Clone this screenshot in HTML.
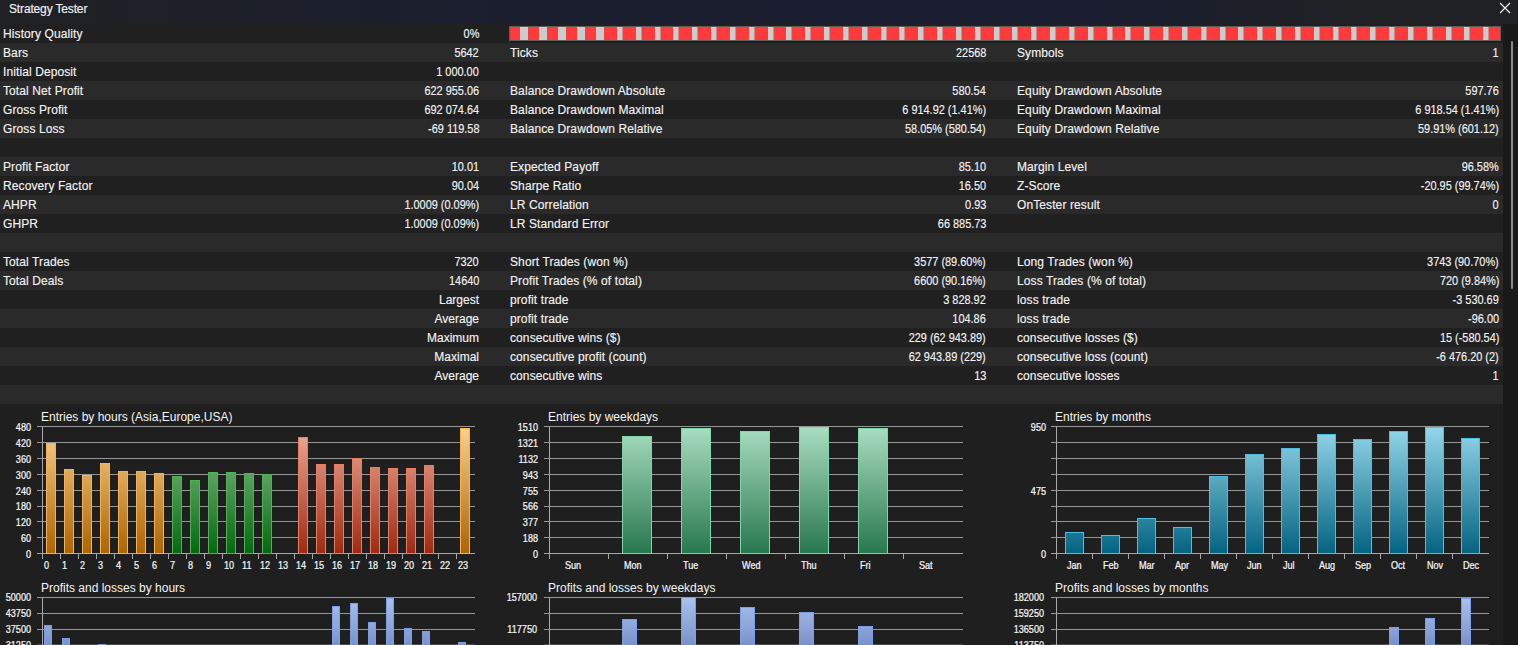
<!DOCTYPE html><html><head><meta charset="utf-8"><style>
*{margin:0;padding:0;box-sizing:border-box}
html,body{width:1518px;height:645px;overflow:hidden;background:#1f1f1f;font-family:"Liberation Sans",sans-serif;color:#f2f2f2;-webkit-text-stroke:0.15px #f2f2f2}
.t{position:absolute;font-size:12px;line-height:19px;white-space:nowrap}
.r{position:absolute;left:0;width:1503px;height:19px}
.l{position:absolute;white-space:nowrap;font-size:12px;line-height:19px;top:1px;letter-spacing:0.1px}
.v{position:absolute;white-space:nowrap;font-size:12px;line-height:19px;top:1px;text-align:right}
.n{transform:scaleX(0.91);transform-origin:100% 50%}
#title{position:absolute;left:0;top:0;width:1518px;height:24px;background:linear-gradient(90deg,#202124 0%,#1f2027 8%,#1d2029 15%,#1b1f2d 25%,#1a1e2f 35%,#1a1e2f 50%,#191d30 70%,#1b1e2c 78%,#1f2026 85%,#202124 90%,#202124 100%)}
#title span{position:absolute;left:9px;top:0.3px;font-size:12px;letter-spacing:-0.15px;line-height:19px;color:#f2f2f2}
#track{position:absolute;left:1503px;top:24px;width:15px;height:621px;background:#191919}
#thumb{position:absolute;left:1511px;top:41px;width:2px;height:248px;background:#8a8a8a;border-radius:1px}
svg{position:absolute;left:0;top:0}

</style></head><body>
<div id="title"><span>Strategy Tester</span></div>
<svg width="1518" height="24" style="top:0"><path d="M1500 3 L1510 13 M1510 3 L1500 13" stroke="#f0f0f0" stroke-width="1.2" fill="none"/></svg>
<div class="r" style="top:24px;background:#202020">
<span class="l" style="left:3px">History Quality</span>
<span class="v n" style="right:1024px">0%</span>
</div>
<div class="r" style="top:43px;background:#2a2a2a">
<span class="l" style="left:3px">Bars</span>
<span class="v n" style="right:1024px">5642</span>
<span class="l" style="left:510px">Ticks</span>
<span class="v n" style="right:517px">22568</span>
<span class="l" style="left:1017px">Symbols</span>
<span class="v n" style="right:4px">1</span>
</div>
<div class="r" style="top:62px;background:#202020">
<span class="l" style="left:3px">Initial Deposit</span>
<span class="v n" style="right:1024px">1 000.00</span>
</div>
<div class="r" style="top:81px;background:#2a2a2a">
<span class="l" style="left:3px">Total Net Profit</span>
<span class="v n" style="right:1024px">622 955.06</span>
<span class="l" style="left:510px">Balance Drawdown Absolute</span>
<span class="v n" style="right:517px">580.54</span>
<span class="l" style="left:1017px">Equity Drawdown Absolute</span>
<span class="v n" style="right:4px">597.76</span>
</div>
<div class="r" style="top:100px;background:#202020">
<span class="l" style="left:3px">Gross Profit</span>
<span class="v n" style="right:1024px">692 074.64</span>
<span class="l" style="left:510px">Balance Drawdown Maximal</span>
<span class="v n" style="right:517px">6 914.92 (1.41%)</span>
<span class="l" style="left:1017px">Equity Drawdown Maximal</span>
<span class="v n" style="right:4px">6 918.54 (1.41%)</span>
</div>
<div class="r" style="top:119px;background:#2a2a2a">
<span class="l" style="left:3px">Gross Loss</span>
<span class="v n" style="right:1024px">-69 119.58</span>
<span class="l" style="left:510px">Balance Drawdown Relative</span>
<span class="v n" style="right:517px">58.05% (580.54)</span>
<span class="l" style="left:1017px">Equity Drawdown Relative</span>
<span class="v n" style="right:4px">59.91% (601.12)</span>
</div>
<div class="r" style="top:138px;background:#202020">
</div>
<div class="r" style="top:157px;background:#2a2a2a">
<span class="l" style="left:3px">Profit Factor</span>
<span class="v n" style="right:1024px">10.01</span>
<span class="l" style="left:510px">Expected Payoff</span>
<span class="v n" style="right:517px">85.10</span>
<span class="l" style="left:1017px">Margin Level</span>
<span class="v n" style="right:4px">96.58%</span>
</div>
<div class="r" style="top:176px;background:#202020">
<span class="l" style="left:3px">Recovery Factor</span>
<span class="v n" style="right:1024px">90.04</span>
<span class="l" style="left:510px">Sharpe Ratio</span>
<span class="v n" style="right:517px">16.50</span>
<span class="l" style="left:1017px">Z-Score</span>
<span class="v n" style="right:4px">-20.95 (99.74%)</span>
</div>
<div class="r" style="top:195px;background:#2a2a2a">
<span class="l" style="left:3px">AHPR</span>
<span class="v n" style="right:1024px">1.0009 (0.09%)</span>
<span class="l" style="left:510px">LR Correlation</span>
<span class="v n" style="right:517px">0.93</span>
<span class="l" style="left:1017px">OnTester result</span>
<span class="v n" style="right:4px">0</span>
</div>
<div class="r" style="top:214px;background:#202020">
<span class="l" style="left:3px">GHPR</span>
<span class="v n" style="right:1024px">1.0009 (0.09%)</span>
<span class="l" style="left:510px">LR Standard Error</span>
<span class="v n" style="right:517px">66 885.73</span>
</div>
<div class="r" style="top:233px;background:#2a2a2a">
</div>
<div class="r" style="top:252px;background:#202020">
<span class="l" style="left:3px">Total Trades</span>
<span class="v n" style="right:1024px">7320</span>
<span class="l" style="left:510px">Short Trades (won %)</span>
<span class="v n" style="right:517px">3577 (89.60%)</span>
<span class="l" style="left:1017px">Long Trades (won %)</span>
<span class="v n" style="right:4px">3743 (90.70%)</span>
</div>
<div class="r" style="top:271px;background:#2a2a2a">
<span class="l" style="left:3px">Total Deals</span>
<span class="v n" style="right:1024px">14640</span>
<span class="l" style="left:510px">Profit Trades (% of total)</span>
<span class="v n" style="right:517px">6600 (90.16%)</span>
<span class="l" style="left:1017px">Loss Trades (% of total)</span>
<span class="v n" style="right:4px">720 (9.84%)</span>
</div>
<div class="r" style="top:290px;background:#202020">
<span class="v" style="right:1024px">Largest</span>
<span class="l" style="left:510px">profit trade</span>
<span class="v n" style="right:517px">3 828.92</span>
<span class="l" style="left:1017px">loss trade</span>
<span class="v n" style="right:4px">-3 530.69</span>
</div>
<div class="r" style="top:309px;background:#2a2a2a">
<span class="v" style="right:1024px">Average</span>
<span class="l" style="left:510px">profit trade</span>
<span class="v n" style="right:517px">104.86</span>
<span class="l" style="left:1017px">loss trade</span>
<span class="v n" style="right:4px">-96.00</span>
</div>
<div class="r" style="top:328px;background:#202020">
<span class="v" style="right:1024px">Maximum</span>
<span class="l" style="left:510px">consecutive wins ($)</span>
<span class="v n" style="right:517px">229 (62 943.89)</span>
<span class="l" style="left:1017px">consecutive losses ($)</span>
<span class="v n" style="right:4px">15 (-580.54)</span>
</div>
<div class="r" style="top:347px;background:#2a2a2a">
<span class="v" style="right:1024px">Maximal</span>
<span class="l" style="left:510px">consecutive profit (count)</span>
<span class="v n" style="right:517px">62 943.89 (229)</span>
<span class="l" style="left:1017px">consecutive loss (count)</span>
<span class="v n" style="right:4px">-6 476.20 (2)</span>
</div>
<div class="r" style="top:366px;background:#202020">
<span class="v" style="right:1024px">Average</span>
<span class="l" style="left:510px">consecutive wins</span>
<span class="v n" style="right:517px">13</span>
<span class="l" style="left:1017px">consecutive losses</span>
<span class="v n" style="right:4px">1</span>
</div>
<div class="r" style="top:385px;background:#2a2a2a">
</div>
<div id="track"></div><div id="thumb"></div>
<svg width="1518" height="645" style="top:0;left:0"><rect x="509" y="26" width="992" height="15" fill="#5c5c5c"/><rect x="510" y="27" width="990" height="13" fill="#ff3a3a"/><rect x="520" y="27" width="8" height="13" fill="#cccccc"/><rect x="539" y="27" width="8" height="13" fill="#cccccc"/><rect x="558" y="27" width="8" height="13" fill="#cccccc"/><rect x="577" y="27" width="8" height="13" fill="#cccccc"/><rect x="596" y="27" width="8" height="13" fill="#cccccc"/><rect x="617" y="27" width="5.5" height="13" fill="#cccccc"/><rect x="636" y="27" width="5.5" height="13" fill="#cccccc"/><rect x="655" y="27" width="5.5" height="13" fill="#cccccc"/><rect x="673" y="27" width="5.5" height="13" fill="#cccccc"/><rect x="692" y="27" width="5.5" height="13" fill="#cccccc"/><rect x="711" y="27" width="5.5" height="13" fill="#cccccc"/><rect x="730" y="27" width="5.5" height="13" fill="#cccccc"/><rect x="749" y="27" width="5.5" height="13" fill="#cccccc"/><rect x="768" y="27" width="5.5" height="13" fill="#cccccc"/><rect x="786" y="27" width="5.5" height="13" fill="#cccccc"/><rect x="805" y="27" width="5.5" height="13" fill="#cccccc"/><rect x="824" y="27" width="5.5" height="13" fill="#cccccc"/><rect x="843" y="27" width="5.5" height="13" fill="#cccccc"/><rect x="862" y="27" width="5.5" height="13" fill="#cccccc"/><rect x="881" y="27" width="5.5" height="13" fill="#cccccc"/><rect x="899" y="27" width="5.5" height="13" fill="#cccccc"/><rect x="918" y="27" width="5.5" height="13" fill="#cccccc"/><rect x="937" y="27" width="5.5" height="13" fill="#cccccc"/><rect x="956" y="27" width="5.5" height="13" fill="#cccccc"/><rect x="975" y="27" width="5.5" height="13" fill="#cccccc"/><rect x="994" y="27" width="5.5" height="13" fill="#cccccc"/><rect x="1012" y="27" width="5.5" height="13" fill="#cccccc"/><rect x="1031" y="27" width="5.5" height="13" fill="#cccccc"/><rect x="1050" y="27" width="5.5" height="13" fill="#cccccc"/><rect x="1069" y="27" width="5.5" height="13" fill="#cccccc"/><rect x="1088" y="27" width="5.5" height="13" fill="#cccccc"/><rect x="1107" y="27" width="5.5" height="13" fill="#cccccc"/><rect x="1125" y="27" width="5.5" height="13" fill="#cccccc"/><rect x="1144" y="27" width="5.5" height="13" fill="#cccccc"/><rect x="1163" y="27" width="5.5" height="13" fill="#cccccc"/><rect x="1182" y="27" width="5.5" height="13" fill="#cccccc"/><rect x="1201" y="27" width="5.5" height="13" fill="#cccccc"/><rect x="1220" y="27" width="5.5" height="13" fill="#cccccc"/><rect x="1238" y="27" width="5.5" height="13" fill="#cccccc"/><rect x="1257" y="27" width="5.5" height="13" fill="#cccccc"/><rect x="1276" y="27" width="5.5" height="13" fill="#cccccc"/><rect x="1295" y="27" width="5.5" height="13" fill="#cccccc"/><rect x="1314" y="27" width="5.5" height="13" fill="#cccccc"/><rect x="1333" y="27" width="5.5" height="13" fill="#cccccc"/><rect x="1351" y="27" width="5.5" height="13" fill="#cccccc"/><rect x="1370" y="27" width="5.5" height="13" fill="#cccccc"/><rect x="1389" y="27" width="5.5" height="13" fill="#cccccc"/><rect x="1408" y="27" width="5.5" height="13" fill="#cccccc"/><rect x="1427" y="27" width="5.5" height="13" fill="#cccccc"/><rect x="1446" y="27" width="5.5" height="13" fill="#cccccc"/><rect x="1464" y="27" width="5.5" height="13" fill="#cccccc"/><rect x="1483" y="27" width="5.5" height="13" fill="#cccccc"/></svg>
<svg width="1518" height="645" style="top:0;left:0"><defs>
<linearGradient id="gOr" gradientUnits="userSpaceOnUse" x1="0" y1="426" x2="0" y2="553"><stop offset="0" stop-color="#f9d290"/><stop offset="1" stop-color="#ab6504"/></linearGradient>
<linearGradient id="gGr" gradientUnits="userSpaceOnUse" x1="0" y1="426" x2="0" y2="553"><stop offset="0" stop-color="#8cc690"/><stop offset="1" stop-color="#066810"/></linearGradient>
<linearGradient id="gRd" gradientUnits="userSpaceOnUse" x1="0" y1="426" x2="0" y2="553"><stop offset="0" stop-color="#eeae9e"/><stop offset="1" stop-color="#9e2a12"/></linearGradient>
<linearGradient id="gMint" gradientUnits="userSpaceOnUse" x1="0" y1="426" x2="0" y2="553"><stop offset="0" stop-color="#aadec2"/><stop offset="1" stop-color="#28784e"/></linearGradient>
<linearGradient id="gBl" gradientUnits="userSpaceOnUse" x1="0" y1="426" x2="0" y2="553"><stop offset="0" stop-color="#96d8ec"/><stop offset="1" stop-color="#046482"/></linearGradient>
<linearGradient id="gPl" gradientUnits="userSpaceOnUse" x1="0" y1="597" x2="0" y2="724"><stop offset="0" stop-color="#aac2ee"/><stop offset="1" stop-color="#2a428e"/></linearGradient>
</defs><text x="41" y="421" font-size="12" fill="#f4f4f4">Entries by hours (Asia,Europe,USA)</text><line x1="37" y1="426.50" x2="475" y2="426.50" stroke="#969696" stroke-width="1"/><line x1="37" y1="442.50" x2="475" y2="442.50" stroke="#969696" stroke-width="1"/><line x1="37" y1="458.50" x2="475" y2="458.50" stroke="#969696" stroke-width="1"/><line x1="37" y1="474.50" x2="475" y2="474.50" stroke="#969696" stroke-width="1"/><line x1="37" y1="490.50" x2="475" y2="490.50" stroke="#969696" stroke-width="1"/><line x1="37" y1="506.50" x2="475" y2="506.50" stroke="#969696" stroke-width="1"/><line x1="37" y1="521.50" x2="475" y2="521.50" stroke="#969696" stroke-width="1"/><line x1="37" y1="537.50" x2="475" y2="537.50" stroke="#969696" stroke-width="1"/><g transform="translate(31,430.7) scale(0.91,1)"><text x="0" y="0" font-size="10" text-anchor="end" fill="#f4f4f4" stroke="#f4f4f4" stroke-width="0.25">480</text></g><g transform="translate(31,446.7) scale(0.91,1)"><text x="0" y="0" font-size="10" text-anchor="end" fill="#f4f4f4" stroke="#f4f4f4" stroke-width="0.25">420</text></g><g transform="translate(31,462.7) scale(0.91,1)"><text x="0" y="0" font-size="10" text-anchor="end" fill="#f4f4f4" stroke="#f4f4f4" stroke-width="0.25">360</text></g><g transform="translate(31,478.7) scale(0.91,1)"><text x="0" y="0" font-size="10" text-anchor="end" fill="#f4f4f4" stroke="#f4f4f4" stroke-width="0.25">300</text></g><g transform="translate(31,494.7) scale(0.91,1)"><text x="0" y="0" font-size="10" text-anchor="end" fill="#f4f4f4" stroke="#f4f4f4" stroke-width="0.25">240</text></g><g transform="translate(31,509.7) scale(0.91,1)"><text x="0" y="0" font-size="10" text-anchor="end" fill="#f4f4f4" stroke="#f4f4f4" stroke-width="0.25">180</text></g><g transform="translate(31,525.7) scale(0.91,1)"><text x="0" y="0" font-size="10" text-anchor="end" fill="#f4f4f4" stroke="#f4f4f4" stroke-width="0.25">120</text></g><g transform="translate(31,541.7) scale(0.91,1)"><text x="0" y="0" font-size="10" text-anchor="end" fill="#f4f4f4" stroke="#f4f4f4" stroke-width="0.25">60</text></g><g transform="translate(31,557.7) scale(0.91,1)"><text x="0" y="0" font-size="10" text-anchor="end" fill="#f4f4f4" stroke="#f4f4f4" stroke-width="0.25">0</text></g><line x1="37" y1="553.5" x2="475" y2="553.5" stroke="#a8a8a8" stroke-width="1"/><line x1="42.5" y1="426" x2="42.5" y2="559" stroke="#a8a8a8" stroke-width="1"/><line x1="42.5" y1="553" x2="42.5" y2="559" stroke="#a8a8a8" stroke-width="1"/><line x1="60.5" y1="553" x2="60.5" y2="559" stroke="#a8a8a8" stroke-width="1"/><line x1="78.5" y1="553" x2="78.5" y2="559" stroke="#a8a8a8" stroke-width="1"/><line x1="96.5" y1="553" x2="96.5" y2="559" stroke="#a8a8a8" stroke-width="1"/><line x1="114.5" y1="553" x2="114.5" y2="559" stroke="#a8a8a8" stroke-width="1"/><line x1="132.5" y1="553" x2="132.5" y2="559" stroke="#a8a8a8" stroke-width="1"/><line x1="150.5" y1="553" x2="150.5" y2="559" stroke="#a8a8a8" stroke-width="1"/><line x1="168.5" y1="553" x2="168.5" y2="559" stroke="#a8a8a8" stroke-width="1"/><line x1="186.5" y1="553" x2="186.5" y2="559" stroke="#a8a8a8" stroke-width="1"/><line x1="204.5" y1="553" x2="204.5" y2="559" stroke="#a8a8a8" stroke-width="1"/><line x1="222.5" y1="553" x2="222.5" y2="559" stroke="#a8a8a8" stroke-width="1"/><line x1="240.5" y1="553" x2="240.5" y2="559" stroke="#a8a8a8" stroke-width="1"/><line x1="258.5" y1="553" x2="258.5" y2="559" stroke="#a8a8a8" stroke-width="1"/><line x1="276.5" y1="553" x2="276.5" y2="559" stroke="#a8a8a8" stroke-width="1"/><line x1="294.5" y1="553" x2="294.5" y2="559" stroke="#a8a8a8" stroke-width="1"/><line x1="312.5" y1="553" x2="312.5" y2="559" stroke="#a8a8a8" stroke-width="1"/><line x1="330.5" y1="553" x2="330.5" y2="559" stroke="#a8a8a8" stroke-width="1"/><line x1="348.5" y1="553" x2="348.5" y2="559" stroke="#a8a8a8" stroke-width="1"/><line x1="366.5" y1="553" x2="366.5" y2="559" stroke="#a8a8a8" stroke-width="1"/><line x1="384.5" y1="553" x2="384.5" y2="559" stroke="#a8a8a8" stroke-width="1"/><line x1="402.5" y1="553" x2="402.5" y2="559" stroke="#a8a8a8" stroke-width="1"/><line x1="420.5" y1="553" x2="420.5" y2="559" stroke="#a8a8a8" stroke-width="1"/><line x1="438.5" y1="553" x2="438.5" y2="559" stroke="#a8a8a8" stroke-width="1"/><line x1="456.5" y1="553" x2="456.5" y2="559" stroke="#a8a8a8" stroke-width="1"/><g transform="translate(44,568.5) scale(0.91,1)"><text x="0" y="0" font-size="10" fill="#f4f4f4" stroke="#f4f4f4" stroke-width="0.25">0</text></g><g transform="translate(62,568.5) scale(0.91,1)"><text x="0" y="0" font-size="10" fill="#f4f4f4" stroke="#f4f4f4" stroke-width="0.25">1</text></g><g transform="translate(80,568.5) scale(0.91,1)"><text x="0" y="0" font-size="10" fill="#f4f4f4" stroke="#f4f4f4" stroke-width="0.25">2</text></g><g transform="translate(98,568.5) scale(0.91,1)"><text x="0" y="0" font-size="10" fill="#f4f4f4" stroke="#f4f4f4" stroke-width="0.25">3</text></g><g transform="translate(116,568.5) scale(0.91,1)"><text x="0" y="0" font-size="10" fill="#f4f4f4" stroke="#f4f4f4" stroke-width="0.25">4</text></g><g transform="translate(134,568.5) scale(0.91,1)"><text x="0" y="0" font-size="10" fill="#f4f4f4" stroke="#f4f4f4" stroke-width="0.25">5</text></g><g transform="translate(152,568.5) scale(0.91,1)"><text x="0" y="0" font-size="10" fill="#f4f4f4" stroke="#f4f4f4" stroke-width="0.25">6</text></g><g transform="translate(170,568.5) scale(0.91,1)"><text x="0" y="0" font-size="10" fill="#f4f4f4" stroke="#f4f4f4" stroke-width="0.25">7</text></g><g transform="translate(188,568.5) scale(0.91,1)"><text x="0" y="0" font-size="10" fill="#f4f4f4" stroke="#f4f4f4" stroke-width="0.25">8</text></g><g transform="translate(206,568.5) scale(0.91,1)"><text x="0" y="0" font-size="10" fill="#f4f4f4" stroke="#f4f4f4" stroke-width="0.25">9</text></g><g transform="translate(224,568.5) scale(0.91,1)"><text x="0" y="0" font-size="10" fill="#f4f4f4" stroke="#f4f4f4" stroke-width="0.25">10</text></g><g transform="translate(242,568.5) scale(0.91,1)"><text x="0" y="0" font-size="10" fill="#f4f4f4" stroke="#f4f4f4" stroke-width="0.25">11</text></g><g transform="translate(260,568.5) scale(0.91,1)"><text x="0" y="0" font-size="10" fill="#f4f4f4" stroke="#f4f4f4" stroke-width="0.25">12</text></g><g transform="translate(278,568.5) scale(0.91,1)"><text x="0" y="0" font-size="10" fill="#f4f4f4" stroke="#f4f4f4" stroke-width="0.25">13</text></g><g transform="translate(296,568.5) scale(0.91,1)"><text x="0" y="0" font-size="10" fill="#f4f4f4" stroke="#f4f4f4" stroke-width="0.25">14</text></g><g transform="translate(314,568.5) scale(0.91,1)"><text x="0" y="0" font-size="10" fill="#f4f4f4" stroke="#f4f4f4" stroke-width="0.25">15</text></g><g transform="translate(332,568.5) scale(0.91,1)"><text x="0" y="0" font-size="10" fill="#f4f4f4" stroke="#f4f4f4" stroke-width="0.25">16</text></g><g transform="translate(350,568.5) scale(0.91,1)"><text x="0" y="0" font-size="10" fill="#f4f4f4" stroke="#f4f4f4" stroke-width="0.25">17</text></g><g transform="translate(368,568.5) scale(0.91,1)"><text x="0" y="0" font-size="10" fill="#f4f4f4" stroke="#f4f4f4" stroke-width="0.25">18</text></g><g transform="translate(386,568.5) scale(0.91,1)"><text x="0" y="0" font-size="10" fill="#f4f4f4" stroke="#f4f4f4" stroke-width="0.25">19</text></g><g transform="translate(404,568.5) scale(0.91,1)"><text x="0" y="0" font-size="10" fill="#f4f4f4" stroke="#f4f4f4" stroke-width="0.25">20</text></g><g transform="translate(422,568.5) scale(0.91,1)"><text x="0" y="0" font-size="10" fill="#f4f4f4" stroke="#f4f4f4" stroke-width="0.25">21</text></g><g transform="translate(440,568.5) scale(0.91,1)"><text x="0" y="0" font-size="10" fill="#f4f4f4" stroke="#f4f4f4" stroke-width="0.25">22</text></g><g transform="translate(458,568.5) scale(0.91,1)"><text x="0" y="0" font-size="10" fill="#f4f4f4" stroke="#f4f4f4" stroke-width="0.25">23</text></g><rect x="46.5" y="443.5" width="9" height="110" fill="url(#gOr)" stroke="#ffb04a"/><rect x="64.5" y="469.5" width="9" height="84" fill="url(#gOr)" stroke="#ffb04a"/><rect x="82.5" y="475.5" width="9" height="78" fill="url(#gOr)" stroke="#ffb04a"/><rect x="100.5" y="463.5" width="9" height="90" fill="url(#gOr)" stroke="#ffb04a"/><rect x="118.5" y="471.5" width="9" height="82" fill="url(#gOr)" stroke="#ffb04a"/><rect x="136.5" y="471.5" width="9" height="82" fill="url(#gOr)" stroke="#ffb04a"/><rect x="154.5" y="473.5" width="9" height="80" fill="url(#gOr)" stroke="#ffb04a"/><rect x="460.5" y="428.5" width="9" height="125" fill="url(#gOr)" stroke="#ffb04a"/><rect x="172.5" y="476.5" width="9" height="77" fill="url(#gGr)" stroke="#4cb450"/><rect x="190.5" y="480.5" width="9" height="73" fill="url(#gGr)" stroke="#4cb450"/><rect x="208.5" y="472.5" width="9" height="81" fill="url(#gGr)" stroke="#4cb450"/><rect x="226.5" y="472.5" width="9" height="81" fill="url(#gGr)" stroke="#4cb450"/><rect x="244.5" y="473.5" width="9" height="80" fill="url(#gGr)" stroke="#4cb450"/><rect x="262.5" y="474.5" width="9" height="79" fill="url(#gGr)" stroke="#4cb450"/><rect x="298.5" y="437.5" width="9" height="116" fill="url(#gRd)" stroke="#f07a5a"/><rect x="316.5" y="464.5" width="9" height="89" fill="url(#gRd)" stroke="#f07a5a"/><rect x="334.5" y="464.5" width="9" height="89" fill="url(#gRd)" stroke="#f07a5a"/><rect x="352.5" y="458.5" width="9" height="95" fill="url(#gRd)" stroke="#f07a5a"/><rect x="370.5" y="467.5" width="9" height="86" fill="url(#gRd)" stroke="#f07a5a"/><rect x="388.5" y="468.5" width="9" height="85" fill="url(#gRd)" stroke="#f07a5a"/><rect x="406.5" y="468.5" width="9" height="85" fill="url(#gRd)" stroke="#f07a5a"/><rect x="424.5" y="465.5" width="9" height="88" fill="url(#gRd)" stroke="#f07a5a"/><text x="548" y="421" font-size="12" fill="#f4f4f4">Entries by weekdays</text><line x1="544" y1="426.50" x2="963" y2="426.50" stroke="#969696" stroke-width="1"/><line x1="544" y1="442.50" x2="963" y2="442.50" stroke="#969696" stroke-width="1"/><line x1="544" y1="458.50" x2="963" y2="458.50" stroke="#969696" stroke-width="1"/><line x1="544" y1="474.50" x2="963" y2="474.50" stroke="#969696" stroke-width="1"/><line x1="544" y1="490.50" x2="963" y2="490.50" stroke="#969696" stroke-width="1"/><line x1="544" y1="506.50" x2="963" y2="506.50" stroke="#969696" stroke-width="1"/><line x1="544" y1="521.50" x2="963" y2="521.50" stroke="#969696" stroke-width="1"/><line x1="544" y1="537.50" x2="963" y2="537.50" stroke="#969696" stroke-width="1"/><g transform="translate(538,430.7) scale(0.91,1)"><text x="0" y="0" font-size="10" text-anchor="end" fill="#f4f4f4" stroke="#f4f4f4" stroke-width="0.25">1510</text></g><g transform="translate(538,446.7) scale(0.91,1)"><text x="0" y="0" font-size="10" text-anchor="end" fill="#f4f4f4" stroke="#f4f4f4" stroke-width="0.25">1321</text></g><g transform="translate(538,462.7) scale(0.91,1)"><text x="0" y="0" font-size="10" text-anchor="end" fill="#f4f4f4" stroke="#f4f4f4" stroke-width="0.25">1132</text></g><g transform="translate(538,478.7) scale(0.91,1)"><text x="0" y="0" font-size="10" text-anchor="end" fill="#f4f4f4" stroke="#f4f4f4" stroke-width="0.25">943</text></g><g transform="translate(538,494.7) scale(0.91,1)"><text x="0" y="0" font-size="10" text-anchor="end" fill="#f4f4f4" stroke="#f4f4f4" stroke-width="0.25">755</text></g><g transform="translate(538,509.7) scale(0.91,1)"><text x="0" y="0" font-size="10" text-anchor="end" fill="#f4f4f4" stroke="#f4f4f4" stroke-width="0.25">566</text></g><g transform="translate(538,525.7) scale(0.91,1)"><text x="0" y="0" font-size="10" text-anchor="end" fill="#f4f4f4" stroke="#f4f4f4" stroke-width="0.25">377</text></g><g transform="translate(538,541.7) scale(0.91,1)"><text x="0" y="0" font-size="10" text-anchor="end" fill="#f4f4f4" stroke="#f4f4f4" stroke-width="0.25">188</text></g><g transform="translate(538,557.7) scale(0.91,1)"><text x="0" y="0" font-size="10" text-anchor="end" fill="#f4f4f4" stroke="#f4f4f4" stroke-width="0.25">0</text></g><line x1="544" y1="553.5" x2="963" y2="553.5" stroke="#a8a8a8" stroke-width="1"/><line x1="549.5" y1="426" x2="549.5" y2="559" stroke="#a8a8a8" stroke-width="1"/><line x1="549.5" y1="553" x2="549.5" y2="559" stroke="#a8a8a8" stroke-width="1"/><line x1="608.5" y1="553" x2="608.5" y2="559" stroke="#a8a8a8" stroke-width="1"/><line x1="667.5" y1="553" x2="667.5" y2="559" stroke="#a8a8a8" stroke-width="1"/><line x1="726.5" y1="553" x2="726.5" y2="559" stroke="#a8a8a8" stroke-width="1"/><line x1="785.5" y1="553" x2="785.5" y2="559" stroke="#a8a8a8" stroke-width="1"/><line x1="844.5" y1="553" x2="844.5" y2="559" stroke="#a8a8a8" stroke-width="1"/><line x1="903.5" y1="553" x2="903.5" y2="559" stroke="#a8a8a8" stroke-width="1"/><g transform="translate(565,568.5) scale(0.91,1)"><text x="0" y="0" font-size="10" fill="#f4f4f4" stroke="#f4f4f4" stroke-width="0.25">Sun</text></g><g transform="translate(624,568.5) scale(0.91,1)"><text x="0" y="0" font-size="10" fill="#f4f4f4" stroke="#f4f4f4" stroke-width="0.25">Mon</text></g><g transform="translate(683,568.5) scale(0.91,1)"><text x="0" y="0" font-size="10" fill="#f4f4f4" stroke="#f4f4f4" stroke-width="0.25">Tue</text></g><g transform="translate(742,568.5) scale(0.91,1)"><text x="0" y="0" font-size="10" fill="#f4f4f4" stroke="#f4f4f4" stroke-width="0.25">Wed</text></g><g transform="translate(801,568.5) scale(0.91,1)"><text x="0" y="0" font-size="10" fill="#f4f4f4" stroke="#f4f4f4" stroke-width="0.25">Thu</text></g><g transform="translate(860,568.5) scale(0.91,1)"><text x="0" y="0" font-size="10" fill="#f4f4f4" stroke="#f4f4f4" stroke-width="0.25">Fri</text></g><g transform="translate(919,568.5) scale(0.91,1)"><text x="0" y="0" font-size="10" fill="#f4f4f4" stroke="#f4f4f4" stroke-width="0.25">Sat</text></g><rect x="622.5" y="436.5" width="29" height="117" fill="url(#gMint)" stroke="#7ed6a6"/><rect x="681.5" y="428.5" width="29" height="125" fill="url(#gMint)" stroke="#7ed6a6"/><rect x="740.5" y="431.5" width="29" height="122" fill="url(#gMint)" stroke="#7ed6a6"/><rect x="799.5" y="427.5" width="29" height="126" fill="url(#gMint)" stroke="#7ed6a6"/><rect x="858.5" y="428.5" width="29" height="125" fill="url(#gMint)" stroke="#7ed6a6"/><text x="1055" y="421" font-size="12" fill="#f4f4f4">Entries by months</text><line x1="1051" y1="426.50" x2="1489" y2="426.50" stroke="#969696" stroke-width="1"/><line x1="1051" y1="442.50" x2="1489" y2="442.50" stroke="#969696" stroke-width="1"/><line x1="1051" y1="458.50" x2="1489" y2="458.50" stroke="#969696" stroke-width="1"/><line x1="1051" y1="474.50" x2="1489" y2="474.50" stroke="#969696" stroke-width="1"/><line x1="1051" y1="490.50" x2="1489" y2="490.50" stroke="#969696" stroke-width="1"/><line x1="1051" y1="506.50" x2="1489" y2="506.50" stroke="#969696" stroke-width="1"/><line x1="1051" y1="521.50" x2="1489" y2="521.50" stroke="#969696" stroke-width="1"/><line x1="1051" y1="537.50" x2="1489" y2="537.50" stroke="#969696" stroke-width="1"/><g transform="translate(1046,430.7) scale(0.91,1)"><text x="0" y="0" font-size="10" text-anchor="end" fill="#f4f4f4" stroke="#f4f4f4" stroke-width="0.25">950</text></g><g transform="translate(1046,494.7) scale(0.91,1)"><text x="0" y="0" font-size="10" text-anchor="end" fill="#f4f4f4" stroke="#f4f4f4" stroke-width="0.25">475</text></g><g transform="translate(1046,557.7) scale(0.91,1)"><text x="0" y="0" font-size="10" text-anchor="end" fill="#f4f4f4" stroke="#f4f4f4" stroke-width="0.25">0</text></g><line x1="1051" y1="553.5" x2="1489" y2="553.5" stroke="#a8a8a8" stroke-width="1"/><line x1="1056.5" y1="426" x2="1056.5" y2="559" stroke="#a8a8a8" stroke-width="1"/><line x1="1056.5" y1="553" x2="1056.5" y2="559" stroke="#a8a8a8" stroke-width="1"/><line x1="1092.5" y1="553" x2="1092.5" y2="559" stroke="#a8a8a8" stroke-width="1"/><line x1="1128.5" y1="553" x2="1128.5" y2="559" stroke="#a8a8a8" stroke-width="1"/><line x1="1164.5" y1="553" x2="1164.5" y2="559" stroke="#a8a8a8" stroke-width="1"/><line x1="1200.5" y1="553" x2="1200.5" y2="559" stroke="#a8a8a8" stroke-width="1"/><line x1="1236.5" y1="553" x2="1236.5" y2="559" stroke="#a8a8a8" stroke-width="1"/><line x1="1272.5" y1="553" x2="1272.5" y2="559" stroke="#a8a8a8" stroke-width="1"/><line x1="1308.5" y1="553" x2="1308.5" y2="559" stroke="#a8a8a8" stroke-width="1"/><line x1="1344.5" y1="553" x2="1344.5" y2="559" stroke="#a8a8a8" stroke-width="1"/><line x1="1380.5" y1="553" x2="1380.5" y2="559" stroke="#a8a8a8" stroke-width="1"/><line x1="1416.5" y1="553" x2="1416.5" y2="559" stroke="#a8a8a8" stroke-width="1"/><line x1="1452.5" y1="553" x2="1452.5" y2="559" stroke="#a8a8a8" stroke-width="1"/><g transform="translate(1067,568.5) scale(0.91,1)"><text x="0" y="0" font-size="10" fill="#f4f4f4" stroke="#f4f4f4" stroke-width="0.25">Jan</text></g><g transform="translate(1103,568.5) scale(0.91,1)"><text x="0" y="0" font-size="10" fill="#f4f4f4" stroke="#f4f4f4" stroke-width="0.25">Feb</text></g><g transform="translate(1139,568.5) scale(0.91,1)"><text x="0" y="0" font-size="10" fill="#f4f4f4" stroke="#f4f4f4" stroke-width="0.25">Mar</text></g><g transform="translate(1175,568.5) scale(0.91,1)"><text x="0" y="0" font-size="10" fill="#f4f4f4" stroke="#f4f4f4" stroke-width="0.25">Apr</text></g><g transform="translate(1211,568.5) scale(0.91,1)"><text x="0" y="0" font-size="10" fill="#f4f4f4" stroke="#f4f4f4" stroke-width="0.25">May</text></g><g transform="translate(1247,568.5) scale(0.91,1)"><text x="0" y="0" font-size="10" fill="#f4f4f4" stroke="#f4f4f4" stroke-width="0.25">Jun</text></g><g transform="translate(1283,568.5) scale(0.91,1)"><text x="0" y="0" font-size="10" fill="#f4f4f4" stroke="#f4f4f4" stroke-width="0.25">Jul</text></g><g transform="translate(1319,568.5) scale(0.91,1)"><text x="0" y="0" font-size="10" fill="#f4f4f4" stroke="#f4f4f4" stroke-width="0.25">Aug</text></g><g transform="translate(1355,568.5) scale(0.91,1)"><text x="0" y="0" font-size="10" fill="#f4f4f4" stroke="#f4f4f4" stroke-width="0.25">Sep</text></g><g transform="translate(1391,568.5) scale(0.91,1)"><text x="0" y="0" font-size="10" fill="#f4f4f4" stroke="#f4f4f4" stroke-width="0.25">Oct</text></g><g transform="translate(1427,568.5) scale(0.91,1)"><text x="0" y="0" font-size="10" fill="#f4f4f4" stroke="#f4f4f4" stroke-width="0.25">Nov</text></g><g transform="translate(1463,568.5) scale(0.91,1)"><text x="0" y="0" font-size="10" fill="#f4f4f4" stroke="#f4f4f4" stroke-width="0.25">Dec</text></g><rect x="1065.5" y="532.5" width="18" height="21" fill="url(#gBl)" stroke="#4cc0e0"/><rect x="1101.5" y="535.5" width="18" height="18" fill="url(#gBl)" stroke="#4cc0e0"/><rect x="1137.5" y="518.5" width="18" height="35" fill="url(#gBl)" stroke="#4cc0e0"/><rect x="1173.5" y="527.5" width="18" height="26" fill="url(#gBl)" stroke="#4cc0e0"/><rect x="1209.5" y="476.5" width="18" height="77" fill="url(#gBl)" stroke="#4cc0e0"/><rect x="1245.5" y="454.5" width="18" height="99" fill="url(#gBl)" stroke="#4cc0e0"/><rect x="1281.5" y="448.5" width="18" height="105" fill="url(#gBl)" stroke="#4cc0e0"/><rect x="1317.5" y="434.5" width="18" height="119" fill="url(#gBl)" stroke="#4cc0e0"/><rect x="1353.5" y="439.5" width="18" height="114" fill="url(#gBl)" stroke="#4cc0e0"/><rect x="1389.5" y="431.5" width="18" height="122" fill="url(#gBl)" stroke="#4cc0e0"/><rect x="1425.5" y="427.5" width="18" height="126" fill="url(#gBl)" stroke="#4cc0e0"/><rect x="1461.5" y="438.5" width="18" height="115" fill="url(#gBl)" stroke="#4cc0e0"/><text x="41" y="592" font-size="12" fill="#f4f4f4">Profits and losses by hours</text><line x1="37" y1="597.50" x2="475" y2="597.50" stroke="#969696"/><g transform="translate(31,601.1) scale(0.91,1)"><text x="0" y="0" font-size="10" text-anchor="end" fill="#f4f4f4" stroke="#f4f4f4" stroke-width="0.25">50000</text></g><line x1="37" y1="613.50" x2="475" y2="613.50" stroke="#969696"/><g transform="translate(31,617.1) scale(0.91,1)"><text x="0" y="0" font-size="10" text-anchor="end" fill="#f4f4f4" stroke="#f4f4f4" stroke-width="0.25">43750</text></g><line x1="37" y1="629.50" x2="475" y2="629.50" stroke="#969696"/><g transform="translate(31,633.1) scale(0.91,1)"><text x="0" y="0" font-size="10" text-anchor="end" fill="#f4f4f4" stroke="#f4f4f4" stroke-width="0.25">37500</text></g><line x1="37" y1="645.50" x2="475" y2="645.50" stroke="#969696"/><g transform="translate(31,649.1) scale(0.91,1)"><text x="0" y="0" font-size="10" text-anchor="end" fill="#f4f4f4" stroke="#f4f4f4" stroke-width="0.25">31250</text></g><line x1="37" y1="644.5" x2="475" y2="644.5" stroke="#4c4c4c"/><line x1="42.5" y1="597" x2="42.5" y2="645" stroke="#a8a8a8"/><rect x="44.5" y="625.5" width="7" height="20" fill="url(#gPl)" stroke="#7c9ee8"/><rect x="62.5" y="638.5" width="7" height="7" fill="url(#gPl)" stroke="#7c9ee8"/><rect x="98.5" y="644.5" width="7" height="1" fill="url(#gPl)" stroke="#7c9ee8"/><rect x="332.5" y="606.5" width="7" height="39" fill="url(#gPl)" stroke="#7c9ee8"/><rect x="350.5" y="603.5" width="7" height="42" fill="url(#gPl)" stroke="#7c9ee8"/><rect x="368.5" y="622.5" width="7" height="23" fill="url(#gPl)" stroke="#7c9ee8"/><rect x="386.5" y="598.5" width="7" height="47" fill="url(#gPl)" stroke="#7c9ee8"/><rect x="404.5" y="628.5" width="7" height="17" fill="url(#gPl)" stroke="#7c9ee8"/><rect x="422.5" y="631.5" width="7" height="14" fill="url(#gPl)" stroke="#7c9ee8"/><rect x="458.5" y="642.5" width="7" height="3" fill="url(#gPl)" stroke="#7c9ee8"/><text x="548" y="592" font-size="12" fill="#f4f4f4">Profits and losses by weekdays</text><line x1="544" y1="597.50" x2="963" y2="597.50" stroke="#969696"/><g transform="translate(537,601.1) scale(0.91,1)"><text x="0" y="0" font-size="10" text-anchor="end" fill="#f4f4f4" stroke="#f4f4f4" stroke-width="0.25">157000</text></g><line x1="544" y1="613.50" x2="963" y2="613.50" stroke="#969696"/><g transform="translate(537,617.1) scale(0.91,1)"><text x="0" y="0" font-size="10" text-anchor="end" fill="#f4f4f4" stroke="#f4f4f4" stroke-width="0.25"></text></g><line x1="544" y1="629.50" x2="963" y2="629.50" stroke="#969696"/><g transform="translate(537,633.1) scale(0.91,1)"><text x="0" y="0" font-size="10" text-anchor="end" fill="#f4f4f4" stroke="#f4f4f4" stroke-width="0.25">117750</text></g><line x1="544" y1="645.50" x2="963" y2="645.50" stroke="#969696"/><g transform="translate(537,649.1) scale(0.91,1)"><text x="0" y="0" font-size="10" text-anchor="end" fill="#f4f4f4" stroke="#f4f4f4" stroke-width="0.25"></text></g><line x1="544" y1="644.5" x2="963" y2="644.5" stroke="#4c4c4c"/><line x1="549.5" y1="597" x2="549.5" y2="645" stroke="#a8a8a8"/><rect x="622.5" y="619.5" width="14" height="26" fill="url(#gPl)" stroke="#7c9ee8"/><rect x="681.5" y="597.5" width="14" height="48" fill="url(#gPl)" stroke="#7c9ee8"/><rect x="740.5" y="607.5" width="14" height="38" fill="url(#gPl)" stroke="#7c9ee8"/><rect x="799.5" y="612.5" width="14" height="33" fill="url(#gPl)" stroke="#7c9ee8"/><rect x="858.5" y="626.5" width="14" height="19" fill="url(#gPl)" stroke="#7c9ee8"/><text x="1055" y="592" font-size="12" fill="#f4f4f4">Profits and losses by months</text><line x1="1051" y1="597.50" x2="1489" y2="597.50" stroke="#969696"/><g transform="translate(1044,601.1) scale(0.91,1)"><text x="0" y="0" font-size="10" text-anchor="end" fill="#f4f4f4" stroke="#f4f4f4" stroke-width="0.25">182000</text></g><line x1="1051" y1="613.50" x2="1489" y2="613.50" stroke="#969696"/><g transform="translate(1044,617.1) scale(0.91,1)"><text x="0" y="0" font-size="10" text-anchor="end" fill="#f4f4f4" stroke="#f4f4f4" stroke-width="0.25">159250</text></g><line x1="1051" y1="629.50" x2="1489" y2="629.50" stroke="#969696"/><g transform="translate(1044,633.1) scale(0.91,1)"><text x="0" y="0" font-size="10" text-anchor="end" fill="#f4f4f4" stroke="#f4f4f4" stroke-width="0.25">136500</text></g><line x1="1051" y1="645.50" x2="1489" y2="645.50" stroke="#969696"/><g transform="translate(1044,649.1) scale(0.91,1)"><text x="0" y="0" font-size="10" text-anchor="end" fill="#f4f4f4" stroke="#f4f4f4" stroke-width="0.25">113750</text></g><line x1="1051" y1="644.5" x2="1489" y2="644.5" stroke="#4c4c4c"/><line x1="1056.5" y1="597" x2="1056.5" y2="645" stroke="#a8a8a8"/><rect x="1389.5" y="627.5" width="9" height="18" fill="url(#gPl)" stroke="#7c9ee8"/><rect x="1425.5" y="618.5" width="9" height="27" fill="url(#gPl)" stroke="#7c9ee8"/><rect x="1461.5" y="598.5" width="9" height="47" fill="url(#gPl)" stroke="#7c9ee8"/></svg>
</body></html>
